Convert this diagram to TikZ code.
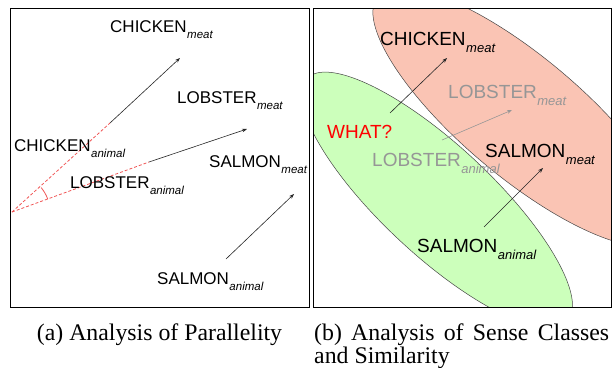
\documentclass[tikz,border=0pt]{standalone}
\usepackage{fontspec}
\setmainfont{Liberation Serif}
\newfontfamily\diagfont{Liberation Sans}
\usetikzlibrary{arrows.meta}
\definecolor{salmonfill}{RGB}{250,196,180}
\definecolor{greenfill}{RGB}{204,255,187}
\definecolor{dashred}{RGB}{240,85,85}
\definecolor{greytext}{RGB}{150,150,150}
\definecolor{edgegrey}{RGB}{70,70,70}
\newcommand{\subl}[1]{\kern0.5pt\raisebox{-6pt}{\fontsize{11.5pt}{12pt}\selectfont\itshape #1}}
\newcommand{\subr}[1]{\kern0.5pt\raisebox{-7pt}{\fontsize{13pt}{14pt}\selectfont\itshape #1}}
\begin{document}
\begin{tikzpicture}[x=1pt,y=-1pt,
  lblL/.style={inner sep=0pt,anchor=base west,font=\diagfont\fontsize{17pt}{18pt}\selectfont},
  lblR/.style={inner sep=0pt,anchor=base west,font=\diagfont\fontsize{19pt}{20pt}\selectfont},
  vec/.style={draw=black!85,line width=0.6pt,-{Stealth[length=5pt,width=3.6pt]}},
  dashln/.style={draw=dashred,line width=0.8pt,dash pattern=on 3pt off 2pt},
  frame/.style={draw=black,line width=0.9pt},
  blob/.style={draw=edgegrey,line width=0.5pt},
  capt/.style={inner sep=0pt,font=\fontsize{23.8pt}{23pt}\selectfont}]
\useasboundingbox (0,0) rectangle (612,367);
% ---------- panel (a) ----------
\node[frame,minimum width=299pt,minimum height=299pt,anchor=north west,inner sep=0pt] (fa) at (10,8) {};
\coordinate (O) at (12,212);
\coordinate (cA) at (110,123);
\coordinate (cM) at (180,58);
\coordinate (lA) at (149,162);
\coordinate (lM) at (247,129);
\coordinate (sA) at (226,259);
\coordinate (sM) at (294,194);
\draw[dashln] (O) -- (cA);
\draw[dashln] (O) -- (lA);
\draw[vec] (cA) -- (cM);
\draw[vec] (lA) -- (lM);
\draw[vec] (sA) -- (sM);
\draw[draw=dashred,line width=0.8pt] (O) ++(20:38pt) arc[start angle=20,end angle=40,radius=38pt];
\node[lblL] (tcm) at (110,32) {CHICKEN\subl{meat}};
\node[lblL] (tlm) at (177,103) {LOBSTER\subl{meat}};
\node[lblL] (tca) at (14,151) {CHICKEN\subl{animal}};
\node[lblL] (tla) at (70,188) {LOBSTER\subl{animal}};
\node[lblL] (tsm) at (209,167) {SALMON\subl{meat}};
\node[lblL] (tsa) at (157,284) {SALMON\subl{animal}};
% ---------- panel (b) ----------
\begin{scope}
\clip (313,8) rectangle (611,307);
\coordinate (gc) at (437,200);
\coordinate (rc) at (522,117);
\path[blob,fill=greenfill,rotate around={-43:(gc)}] (gc) ellipse[x radius=178pt,y radius=55pt];
\path[blob,fill=salmonfill,rotate around={-40:(rc)}] (rc) ellipse[x radius=188pt,y radius=60pt];
\end{scope}
\node[frame,minimum width=298pt,minimum height=299pt,anchor=north west,inner sep=0pt] (fb) at (313,8) {};
\coordinate (rcA) at (390,113);
\coordinate (rcM) at (447,58);
\coordinate (rlA) at (442,140);
\coordinate (rlM) at (512,110);
\coordinate (rsA) at (484,227);
\coordinate (rsM) at (543,168);
\draw[vec] (rcA) -- (rcM);
\draw[vec,draw=greytext] (rlA) -- (rlM);
\draw[vec] (rsA) -- (rsM);
\node[lblR] (ucm) at (380,45) {CHICKEN\subr{meat}};
\node[lblR,text=greytext] (ulm) at (448,98) {LOBSTER\subr{meat}};
\node[lblR,text=red] (what) at (327,138) {WHAT?};
\node[lblR,text=greytext] (ula) at (372,166) {LOBSTER\subr{animal}};
\node[lblR] (usm) at (485,157) {SALMON\subr{meat}};
\node[lblR] (usa) at (417,252) {SALMON\subr{animal}};
% ---------- captions ----------
\node[capt,anchor=base] (capa) at (159.5,340) {(a) Analysis of Parallelity};
\node[capt,anchor=base west,text width=295pt,align=justify] (capb) at (314,340)
  {\hyphenpenalty=10000 (b) Analysis of Sense Classes and Similarity};
\end{tikzpicture}
\end{document}
